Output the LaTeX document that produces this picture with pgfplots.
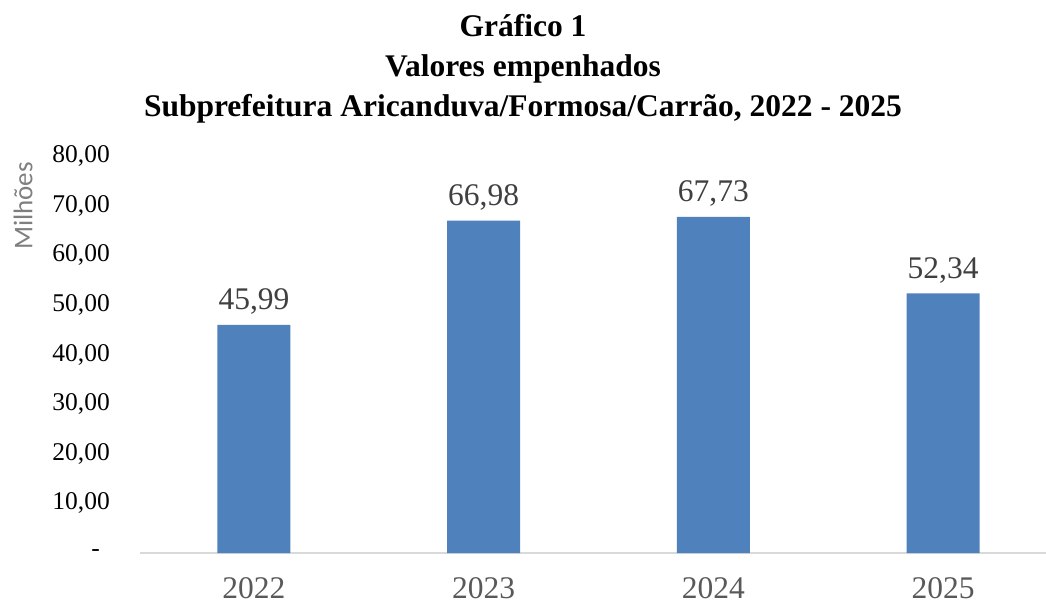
\documentclass[border=0pt]{standalone}
\usepackage{pgfplots}
\pgfplotsset{compat=1.18}
\usepackage{fontspec}
\setmainfont{Liberation Serif}
\newfontfamily\carlito{Carlito}
\definecolor{barblue}{HTML}{4F81BD}
\definecolor{axgray}{HTML}{D9D9D9}
\definecolor{xlab}{HTML}{595959}
\definecolor{dlab}{HTML}{404040}
\definecolor{ylab}{HTML}{7F7F7F}
\begin{document}
\begin{tikzpicture}
\useasboundingbox (-140pt,-52pt) rectangle (906pt,553pt);
\begin{axis}[
  at={(0pt,0pt)}, anchor=south west,
  scale only axis, width=906pt, height=397pt,
  xmin=-0.496, xmax=3.448, ymin=0, ymax=80,
  enlargelimits=false,
  ybar, bar width=73pt,
  axis lines*=left,
  x axis line style={draw=axgray, line width=1.5pt},
  y axis line style={draw=none},
  major tick length=0pt,
  xtick={0,1,2,3},
  xticklabels={2022,2023,2024,2025},
  xticklabel style={anchor=base, yshift=-45pt, inner sep=0pt, font=\fontsize{31.5}{36}\selectfont, text=xlab},
  ytick={0,10,20,30,40,50,60,70,80},
  yticklabels={{-\hspace*{10pt}},{10,00},{20,00},{30,00},{40,00},{50,00},{60,00},{70,00},{80,00}},
  yticklabel style={anchor=east, inner sep=0pt, xshift=-30pt, font=\fontsize{25.5}{30}\selectfont, text=black},
  /pgf/number format/assume math mode=true,
  nodes near coords={\pgfmathprintnumber[fixed,fixed zerofill,precision=2,use comma]{\pgfplotspointmeta}},
  every node near coord/.append style={anchor=base, yshift=15pt, inner sep=0pt, font=\fontsize{31.5}{36}\selectfont, text=dlab},
]
\addplot[fill=barblue, draw=none] coordinates {(0,45.99) (1,66.98) (2,67.73) (3,52.34)};
\end{axis}
\node[anchor=base, inner sep=0pt, font=\bfseries\fontsize{31.5}{36}\selectfont] at (383pt,516pt) {Gráfico 1};
\node[anchor=base, inner sep=0pt, font=\bfseries\fontsize{31.5}{36}\selectfont] at (383pt,476pt) {Valores empenhados};
\node[anchor=base, inner sep=0pt, font=\bfseries\fontsize{31.5}{36}\selectfont] at (383pt,436pt) {Subprefeitura Aricanduva/Formosa/Carrão, 2022 - 2025};
\node[rotate=90, anchor=center, inner sep=0pt, font=\carlito\fontsize{27}{32}\selectfont, text=ylab] at (-117pt,347pt) {Milhões};
\end{tikzpicture}
\end{document}
